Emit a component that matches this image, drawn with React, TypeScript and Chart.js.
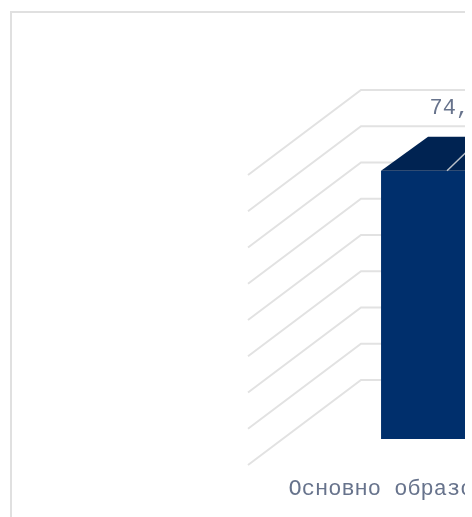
import React, { useEffect, useRef } from "react";
import { Chart, registerables } from "chart.js";

Chart.register(...registerables);

const categories = ["Основно образование"];
const seriesValues = [74];
const valueLabels = ["74,0"];
const yMin = 0;
const yMax = 80;
const yStep = 10;

const FONT = '"Liberation Mono", monospace';
const TEXT = "#67738c";
const GRID = "#e2e2e2";

const box3d = {
  id: "box3d",
  beforeDatasetsDraw(chart: any) {
    const { ctx, chartArea } = chart;
    const y = chart.scales.y;
    ctx.save();
    ctx.strokeStyle = GRID;
    ctx.lineWidth = 2;
    ctx.lineJoin = "miter";
    y.ticks.forEach((t: any) => {
      const py = y.getPixelForValue(t.value);
      ctx.beginPath();
      ctx.moveTo(chartArea.left - 34, py + 26);
      ctx.lineTo(chartArea.left + 79, py - 59);
      ctx.lineTo(chartArea.right + 79, py - 59);
      ctx.stroke();
    });
    ctx.restore();
  },
  afterDatasetsDraw(chart: any) {
    const { ctx } = chart;
    const dx = 47;
    const dy = 34;
    ctx.save();
    chart.getDatasetMeta(0).data.forEach((bar: any, i: number) => {
      const { x, y, width, base } = bar.getProps(["x", "y", "width", "base"], true);
      const l = x - width / 2;
      const r = x + width / 2;
      ctx.fillStyle = "#002352";
      ctx.beginPath();
      ctx.moveTo(l, y);
      ctx.lineTo(l + dx, y - dy);
      ctx.lineTo(r + dx, y - dy);
      ctx.lineTo(r, y);
      ctx.closePath();
      ctx.fill();
      ctx.fillStyle = "#00234f";
      ctx.beginPath();
      ctx.moveTo(r, y);
      ctx.lineTo(r + dx, y - dy);
      ctx.lineTo(r + dx, base - dy);
      ctx.lineTo(r, base);
      ctx.closePath();
      ctx.fill();
      // leader line towards the value label
      ctx.strokeStyle = "#b9c0c9";
      ctx.lineWidth = 1.5;
      ctx.beginPath();
      ctx.moveTo(x - 10, y);
      ctx.lineTo(x + 20, y - 29);
      ctx.stroke();
      ctx.fillStyle = TEXT;
      ctx.font = `22px ${FONT}`;
      ctx.textAlign = "center";
      ctx.textBaseline = "middle";
      ctx.fillText(valueLabels[i], x - 1, y - 63);
    });
    ctx.restore();
  },
};

export default function App() {
  const ref = useRef<HTMLCanvasElement>(null);
  useEffect(() => {
    const chart = new Chart(ref.current!, {
      type: "bar",
      data: {
        labels: categories,
        datasets: [
          {
            data: seriesValues,
            backgroundColor: "#002f6c",
            categoryPercentage: 1,
            barPercentage: 0.434,
          },
        ],
      },
      options: {
        responsive: false,
        animation: false,
        layout: { padding: { left: 270, right: 60, top: 136, bottom: 0 } },
        plugins: { legend: { display: false }, title: { display: false }, tooltip: { enabled: false } },
        scales: {
          x: {
            grid: { display: false, drawTicks: false },
            border: { display: false },
            ticks: {
              color: TEXT,
              font: { family: FONT, size: 22 },
              padding: 37,
              labelOffset: -43,
              maxRotation: 0,
              autoSkip: false,
            },
            afterFit(scale: any) {
              scale.height = 78;
            },
          },
          y: {
            display: false,
            min: yMin,
            max: yMax,
            ticks: { stepSize: yStep },
          },
        },
      },
      plugins: [box3d],
    } as any);
    return () => chart.destroy();
  }, []);
  return (
    <div
      style={{
        position: "absolute",
        left: 10,
        top: 11,
        width: 455,
        height: 506,
        overflow: "hidden",
        boxSizing: "border-box",
        borderTop: "2px solid #e0e0e0",
        borderLeft: "2px solid #e0e0e0",
        background: "#fff",
      }}
    >
      <canvas ref={ref} width={680} height={504} style={{ display: "block" }} />
    </div>
  );
}
